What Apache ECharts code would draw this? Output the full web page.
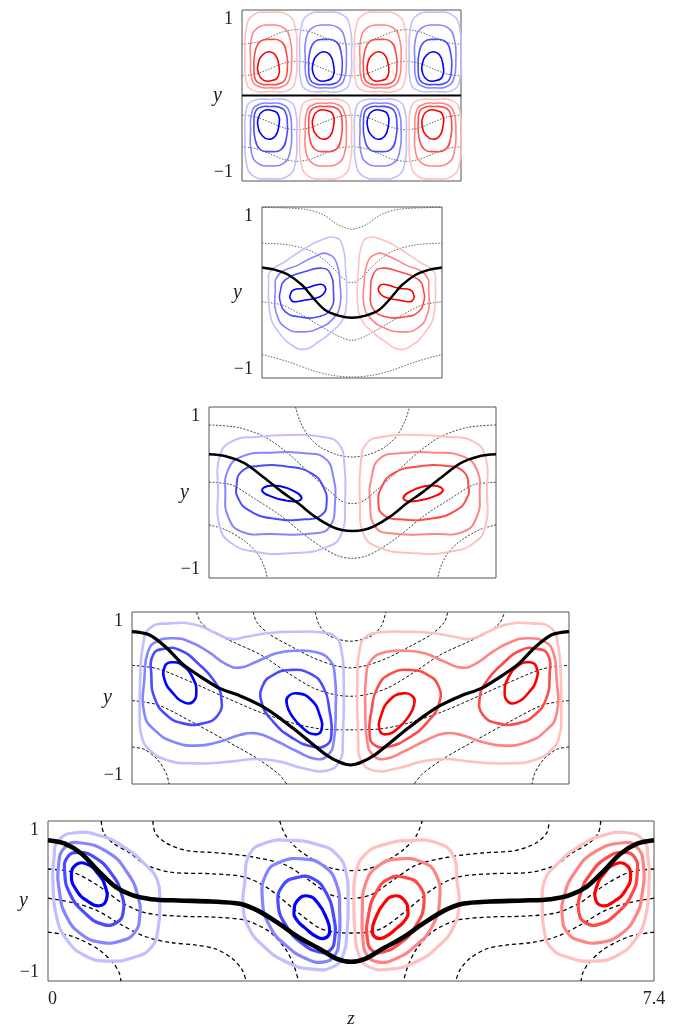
<!DOCTYPE html>
<html>
<head>
<meta charset="UTF-8">
<title>vortex panels</title>
<script src="https://cdn.jsdelivr.net/npm/echarts@6.0.0/dist/echarts.min.js"></script>
<style>
  html, body { margin: 0; padding: 0; background: #fff; }
  #main { width: 685px; height: 1029px; }
</style>
</head>
<body>
<div id="main"></div>
<script>
// length of each panel along z (y always runs from -1 to 1)
const panelLength = [2.56, 2.12, 3.35, 5.08, 7.4];

// contour colours, outer (weak) to inner (strong)
const blueLevels = ['#c0c0ff', '#8585ff', '#4a4aff', '#0000ff'];
const redLevels  = ['#ffc0c0', '#ff8585', '#ff4a4a', '#ff0000'];

// ---- panel 1 : one cell shape (upper row), repeated along z ----
const p1CellZ = [0.32, 0.96, 1.6, 2.24];
const p1Outer = [[.01,.973],[.22,.94],[.305,.785],[.32,.49],[.305,.18],[.22,.06],[.01,.047],[-.19,.06],[-.27,.16],[-.285,.49],[-.27,.785],[-.19,.94]];
const p1Ring2 = [[.01,.824],[.16,.797],[.24,.668],[.26,.414],[.23,.18],[.14,.10],[.01,.09],[-.11,.10],[-.20,.18],[-.22,.414],[-.21,.668],[-.13,.797]];
const p1Ring3 = [[.01,.656],[.14,.629],[.20,.492],[.21,.316],[.18,.18],[.10,.133],[.01,.129],[-.09,.133],[-.16,.18],[-.18,.316],[-.17,.492],[-.11,.629]];
const p1Inner = [[-.01,.512],[.07,.473],[.11,.355],[.105,.227],[.02,.172],[-.07,.18],[-.125,.25],[-.13,.375],[-.08,.473]];
const p1DotA = [[0,.60],[.16,.62],[.32,.68],[.48,.745],[.64,.77],[.80,.745],[.96,.68],[1.12,.62],[1.28,.60],[1.44,.62],[1.6,.68],[1.76,.745],[1.92,.77],[2.08,.745],[2.24,.68],[2.4,.62],[2.56,.60]];
const p1DotB = [[0,.23],[.16,.25],[.32,.31],[.48,.375],[.64,.40],[.80,.375],[.96,.31],[1.12,.25],[1.28,.23],[1.44,.25],[1.6,.31],[1.76,.375],[1.92,.40],[2.08,.375],[2.24,.31],[2.4,.25],[2.56,.23]];
const p1Black = [[0,0],[2.56,0]];

// ---- panel 2 (blue half; red half is its mirror) ----
const p2Outer = [[.078,.127],[.097,.245],[.273,.362],[.508,.518],[.704,.616],[.86,.644],[.946,.557],[.986,.245],[.997,-.068],[.958,-.303],[.821,-.46],[.665,-.577],[.508,-.663],[.352,-.616],[.195,-.46],[.097,-.264]];
const p2Ring2 = [[.156,.01],[.195,.206],[.43,.323],[.665,.44],[.782,.448],[.88,.343],[.919,.088],[.919,-.147],[.841,-.303],[.665,-.42],[.47,-.46],[.293,-.42],[.176,-.264]];
const p2Ring3 = [[.215,.01],[.273,.147],[.508,.245],[.704,.284],[.802,.225],[.841,.01],[.813,-.186],[.665,-.283],[.43,-.283],[.273,-.225],[.215,-.107]];
const p2Inner = [[.332,-.029],[.371,.029],[.508,.049],[.684,.096],[.743,.068],[.743,.01],[.684,-.049],[.508,-.088],[.371,-.107],[.332,-.068]];
const p2Black = [[0,.292],[.156,.264],[.313,.205],[.47,.088],[.606,-.068],[.743,-.205],[.9,-.27],[1.06,-.295]];
const p2Dash1 = [[0,.995],[.5,.975],[.72,.91],[.88,.8],[1.0,.75],[1.06,.74]];
const p2Dash2 = [[0,.577],[.31,.557],[.59,.479],[.78,.342],[.92,.2],[1.0,.13],[1.06,.115]];
const p2Dash3 = [[0,-.108],[.235,-.147],[.47,-.264],[.7,-.4],[.92,-.52],[1.06,-.56]];
const p2Dash4 = [[0,-.725],[.31,-.81],[.59,-.91],[.82,-.968],[1.06,-.988]];

// ---- panel 3 ----
const p3Outer = [[.106,.03],[.125,.42],[.262,.595],[.573,.653],[.963,.673],[1.314,.653],[1.509,.575],[1.579,.341],[1.587,-.126],[1.548,-.477],[1.392,-.633],[.963,-.711],[.535,-.692],[.262,-.594],[.125,-.399]];
const p3Ring2 = [[.191,-.009],[.223,.264],[.379,.42],[.73,.466],[1.12,.458],[1.353,.4],[1.45,.186],[1.47,-.126],[1.41,-.399],[1.236,-.477],[.73,-.485],[.379,-.458],[.223,-.282]];
const p3Ring3 = [[.32,.069],[.379,.244],[.573,.31],[.924,.302],[1.197,.224],[1.333,.069],[1.373,-.126],[1.314,-.263],[1.119,-.314],[.73,-.302],[.457,-.204],[.34,-.068]];
const p3Inner = [[.62,.022],[.69,.077],[.846,.069],[1.002,.011],[1.08,-.056],[1.041,-.098],[.905,-.095],[.729,-.048]];
const p3Black = [[0,.447],[.184,.427],[.418,.341],[.652,.166],[.847,.01],[1.041,-.126],[1.236,-.282],[1.431,-.399],[1.55,-.438],[1.675,-.45]];
const p3Dash1 = [[0,-.38],[.18,-.43],[.42,-.57],[.57,-.72],[.65,-.88],[.68,-1]];
const p3Dash2 = [[0,.12],[.26,.09],[.53,-.07],[.85,-.28],[1.12,-.5],[1.35,-.66],[1.52,-.745],[1.675,-.77]];
const p3Dash3 = [[0,.79],[.34,.76],[.65,.65],[.92,.46],[1.18,.22],[1.38,.04],[1.55,-.1],[1.675,-.13]];
const p3Dash4 = [[1.01,1],[1.06,.84],[1.16,.66],[1.3,.53],[1.5,.44],[1.675,.415]];

// ---- panel 4 ----
const p4Outer = [[.109,-.43],[.089,-.236],[.097,.267],[.128,.616],[.205,.81],[.438,.868],[.748,.849],[.98,.752],[1.155,.686],[1.33,.713],[1.6,.756],[1.91,.771],[2.18,.764],[2.36,.713],[2.43,.578],[2.46,.267],[2.45,-.508],[2.41,-.74],[2.26,-.845],[1.99,-.817],[1.72,-.74],[1.45,-.71],[1.14,-.74],[.748,-.76],[.40,-.72],[.186,-.585]];
const p4Ring2 = [[.147,-.198],[.147,.267],[.186,.539],[.283,.655],[.477,.694],[.67,.655],[.884,.539],[1.097,.391],[1.252,.353],[1.446,.422],[1.678,.519],[1.911,.55],[2.143,.531],[2.298,.442],[2.357,.267],[2.368,-.12],[2.345,-.508],[2.279,-.663],[2.143,-.709],[1.911,-.616],[1.678,-.5],[1.446,-.411],[1.252,-.43],[1.019,-.508],[.748,-.554],[.477,-.508],[.283,-.391]];
const p4Ring3a = [[.225,.267],[.244,.5],[.36,.57],[.554,.558],[.787,.384],[.961,.19],[1.039,-.004],[1.0,-.198],[.826,-.295],[.593,-.295],[.4,-.198],[.264,-.004]];
const p4Ring3b = [[1.504,-.043],[1.523,.151],[1.64,.267],[1.833,.326],[2.066,.287],[2.221,.132],[2.298,-.159],[2.318,-.43],[2.26,-.547],[2.105,-.566],[1.872,-.469],[1.64,-.275]];
const p4InnerA = [[.38,.209],[.38,.364],[.457,.415],[.593,.376],[.709,.229],[.748,.074],[.709,-.043],[.612,-.054],[.477,.054]];
const p4InnerB = [[1.802,-.081],[1.814,.016],[1.93,.054],[2.085,-.023],[2.182,-.198],[2.202,-.372],[2.124,-.422],[1.988,-.353],[1.853,-.198]];
const p4Black = [[0,.771],[.205,.733],[.4,.585],[.593,.391],[.826,.229],[1.019,.112],[1.252,.027],[1.484,-.081],[1.678,-.205],[1.872,-.353],[2.066,-.508],[2.26,-.663],[2.415,-.748],[2.54,-.779]];
const p4Dash1 = [[0,-.57],[.15,-.6],[.3,-.72],[.4,-.88],[.43,-1]];
const p4Dash2 = [[0,-.03],[.3,-.08],[.7,-.28],[1.1,-.5],[1.45,-.7],[1.7,-.88],[1.8,-1]];
const p4Dash3 = [[0,.38],[.3,.34],[.7,.18],[1.1,0],[1.5,-.17],[1.9,-.3],[2.2,-.36],[2.54,-.37]];
const p4Dash4 = [[.75,1],[.8,.88],[.95,.76],[1.2,.64],[1.5,.5],[1.8,.3],[2.1,.12],[2.35,.04],[2.54,.02]];
const p4Dash5 = [[1.41,1],[1.45,.88],[1.6,.74],[1.85,.6],[2.1,.47],[2.35,.38],[2.54,.35]];
const p4Dash6 = [[2.13,1],[2.18,.84],[2.3,.72],[2.54,.66]];

// ---- panel 5 ----
const p5OuterA = [[.074,.546],[.123,.75],[.326,.853],[.652,.812],[.936,.669],[1.18,.464],[1.335,.26],[1.364,-.027],[1.343,-.354],[1.262,-.579],[1.058,-.701],[.733,-.751],[.448,-.681],[.224,-.476],[.102,-.19],[.061,.219]];
const p5Ring2A = [[.131,.464],[.204,.669],[.367,.73],[.733,.607],[.977,.342],[1.099,.055],[1.12,-.19],[1.058,-.395],[.896,-.497],[.652,-.517],[.407,-.415],[.224,-.19],[.143,.096]];
const p5Ring3A = [[.204,.362],[.236,.546],[.367,.607],[.57,.546],[.774,.342],[.896,.096],[.916,-.149],[.835,-.272],[.672,-.292],[.448,-.149],[.265,.096]];
const p5InnerA = [[.285,.321],[.346,.456],[.468,.464],[.611,.342],[.70,.178],[.712,.014],[.631,-.059],[.489,-.006],[.346,.137]];
const p5OuterB = [[2.402,.219],[2.463,.587],[2.666,.73],[2.951,.759],[3.277,.71],[3.521,.587],[3.643,.342],[3.664,.014],[3.651,-.395],[3.602,-.681],[3.48,-.824],[3.236,-.853],[2.91,-.763],[2.626,-.558],[2.442,-.313],[2.381,-.027]];
const p5Ring2B = [[2.618,.014],[2.666,.342],[2.829,.485],[3.114,.526],[3.358,.444],[3.521,.219],[3.562,-.149],[3.554,-.476],[3.5,-.681],[3.358,-.763],[3.155,-.722],[2.91,-.558],[2.707,-.313]];
const p5Ring3B = [[2.809,-.027],[2.87,.198],[3.033,.292],[3.236,.28],[3.399,.096],[3.488,-.19],[3.5,-.476],[3.439,-.62],[3.317,-.64],[3.114,-.538],[2.91,-.313]];
const p5InnerB = [[3.004,-.129],[3.053,.014],[3.175,.063],[3.297,-.027],[3.399,-.211],[3.44,-.374],[3.399,-.456],[3.297,-.456],[3.134,-.333],[3.033,-.231]];
const p5Black = [[0,.76],[.2,.72],[.41,.59],[.61,.38],[.82,.18],[1.02,.076],[1.26,.023],[1.59,.006],[1.99,-.006],[2.34,-.035],[2.58,-.13],[2.83,-.29],[3.07,-.46],[3.32,-.6],[3.52,-.72],[3.7,-.76]];
const p5Dash1 = [[0,-.39],[.29,-.44],[.61,-.6],[.8,-.78],[.87,-.9],[.89,-1]];
const p5Dash2 = [[0,.035],[.3,-.02],[.6,-.12],[.9,-.3],[1.2,-.45],[1.5,-.52],[1.8,-.55],[2.05,-.6],[2.25,-.72],[2.37,-.86],[2.42,-1]];
const p5Dash3 = [[0,.40],[.3,.36],[.6,.2],[.9,-.02],[1.2,-.15],[1.6,-.19],[2.0,-.2],[2.4,-.24],[2.7,-.38],[2.9,-.6],[3.0,-.8],[3.06,-1]];
const p5Dash4 = [[.65,1],[.68,.85],[.8,.72],[1.0,.6],[1.2,.45],[1.5,.36],[2.0,.34],[2.4,.3],[2.7,.15],[3.0,-.1],[3.3,-.33],[3.5,-.39],[3.7,-.4]];
const p5Dash5 = [[1.28,1],[1.31,.85],[1.45,.72],[1.7,.63],[2.1,.6],[2.5,.55],[2.9,.45],[3.2,.25],[3.45,.08],[3.7,.03]];
const p5Dash6 = [[2.83,1],[2.9,.82],[3.05,.65],[3.3,.48],[3.5,.40],[3.7,.38]];

// layout + stroke widths per panel
const grids = [
  { left: 242, top: 10, width: 219, height: 171 },
  { left: 262, top: 207, width: 180, height: 171 },
  { left: 209, top: 407, width: 287, height: 171 },
  { left: 132, top: 612, width: 437, height: 172 },
  { left: 48, top: 821, width: 606, height: 163 }
];
const ringWidth = [1.6, 1.6, 2, 2.6, 3.2];
const blackWidth = [2.2, 2.4, 2.6, 3.2, 4.6];
const dashStyle = [
  { color: '#555', width: 0.9, type: [1.5, 1.5] },
  { color: '#555', width: 0.9, type: [1.5, 1.5] },
  { color: '#333', width: 0.9, type: [2, 1.5] },
  { color: '#111', width: 1, type: [3, 2] },
  { color: '#000', width: 1.3, type: [4, 3] }
];

const mirror = (pts, L) => pts.map(([z, y]) => [L - z, y]);

// half curve -> full curve(s), joined when it reaches the centre line
function fullLines(half, L) {
  const last = half[half.length - 1];
  if (Math.abs(last[0] - L / 2) < 1e-6) {
    return [half.concat(mirror(half.slice(0, -1), L).reverse())];
  }
  return [half, mirror(half, L)];
}

// panel 1 rings
const p1Shape = [p1Outer, p1Ring2, p1Ring3, p1Inner];
const p1Rings = [];
p1CellZ.forEach((zc, i) => {
  [1, -1].forEach(row => {
    const isRed = (i % 2 === 0) === (row === 1);
    p1Shape.forEach((shape, lvl) => {
      p1Rings.push({ lvl, color: (isRed ? redLevels : blueLevels)[lvl],
        pts: shape.map(([dz, y]) => [zc + dz, row * y]) });
    });
  });
});

// panels 2-5 : blue rings with their level, red = mirror
function pairRings(blue, L) {
  const out = [];
  blue.forEach(([pts, lvl]) => {
    out.push({ lvl, color: blueLevels[lvl], pts });
    out.push({ lvl, color: redLevels[lvl], pts: mirror(pts, L) });
  });
  return out;
}

const rings = [
  p1Rings,
  pairRings([[p2Outer, 0], [p2Ring2, 1], [p2Ring3, 2], [p2Inner, 3]], panelLength[1]),
  pairRings([[p3Outer, 0], [p3Ring2, 1], [p3Ring3, 2], [p3Inner, 3]], panelLength[2]),
  pairRings([[p4Outer, 0], [p4Ring2, 1], [p4Ring3a, 2], [p4Ring3b, 2], [p4InnerA, 3], [p4InnerB, 3]], panelLength[3]),
  pairRings([[p5OuterA, 0], [p5Ring2A, 1], [p5Ring3A, 2], [p5InnerA, 3],
             [p5OuterB, 0], [p5Ring2B, 1], [p5Ring3B, 2], [p5InnerB, 3]], panelLength[4])
].map(list => list.sort((a, b) => a.lvl - b.lvl));

const dashes = [
  [p1DotA, p1DotB, p1DotA.map(([z, y]) => [z, -y]), p1DotB.map(([z, y]) => [z, -y])],
  [p2Dash1, p2Dash2, p2Dash3, p2Dash4].flatMap(h => fullLines(h, panelLength[1])),
  [p3Dash1, p3Dash2, p3Dash3, p3Dash4].flatMap(h => fullLines(h, panelLength[2])),
  [p4Dash1, p4Dash2, p4Dash3, p4Dash4, p4Dash5, p4Dash6].flatMap(h => fullLines(h, panelLength[3])),
  [p5Dash1, p5Dash2, p5Dash3, p5Dash4, p5Dash5, p5Dash6].flatMap(h => fullLines(h, panelLength[4]))
];

const blacks = [
  [p1Black],
  fullLines(p2Black, panelLength[1]),
  fullLines(p3Black, panelLength[2]),
  fullLines(p4Black, panelLength[3]),
  fullLines(p5Black, panelLength[4])
];

const serif = 'Liberation Serif';
const series = [];

rings.forEach((list, idx) => {
  series.push({
    type: 'custom',
    coordinateSystem: 'cartesian2d',
    xAxisIndex: idx, yAxisIndex: idx,
    silent: true,
    z: 3,
    data: list.map(r => r.pts[0]),
    renderItem: (params, api) => {
      const r = list[params.dataIndex];
      return {
        type: 'polygon',
        shape: { points: r.pts.map(p => api.coord(p)), smooth: 0.5 },
        style: { fill: 'none', stroke: r.color, lineWidth: ringWidth[idx] }
      };
    }
  });
});

dashes.forEach((list, idx) => {
  list.forEach(pts => series.push({
    type: 'line', xAxisIndex: idx, yAxisIndex: idx, data: pts,
    smooth: 0.3, symbol: 'none', silent: true, z: 2,
    lineStyle: dashStyle[idx]
  }));
});

blacks.forEach((list, idx) => {
  list.forEach(pts => series.push({
    type: 'line', xAxisIndex: idx, yAxisIndex: idx, data: pts,
    smooth: 0.3, symbol: 'none', silent: true, z: 4,
    lineStyle: { color: '#000', width: blackWidth[idx] }
  }));
});

const chart = echarts.init(document.getElementById('main'));
chart.setOption({
  backgroundColor: '#fff',
  animation: false,
  grid: grids.map(g => Object.assign({ show: true, borderColor: '#555', borderWidth: 1, containLabel: false }, g)),
  xAxis: panelLength.map((L, i) => ({
    gridIndex: i, type: 'value', min: 0, max: L, interval: L,
    show: i === 4,
    axisLine: { show: false }, axisTick: { show: false }, splitLine: { show: false },
    axisLabel: { margin: 9, fontFamily: serif, fontSize: 18, color: '#222',
      alignMinLabel: 'left', alignMaxLabel: 'center' },
    name: 'z', nameLocation: 'middle', nameGap: 28, nameMoveOverlap: false,
    nameTextStyle: { fontFamily: serif, fontStyle: 'italic', fontSize: 19, color: '#222' }
  })),
  yAxis: panelLength.map((L, i) => ({
    gridIndex: i, type: 'value', min: -1, max: 1, interval: 2,
    axisLine: { show: false }, axisTick: { show: false }, splitLine: { show: false },
    axisLabel: { margin: 9, fontFamily: serif, fontSize: 18, color: '#222',
      formatter: v => (v < 0 ? '\u22121' : '1'),
      verticalAlignMaxLabel: 'top', verticalAlignMinLabel: 'bottom' },
    name: 'y', nameLocation: 'middle', nameGap: 20, nameRotate: 0, nameMoveOverlap: false,
    nameTextStyle: { fontFamily: serif, fontStyle: 'italic', fontSize: 20, color: '#222' }
  })),
  series
});
</script>
</body>
</html>
